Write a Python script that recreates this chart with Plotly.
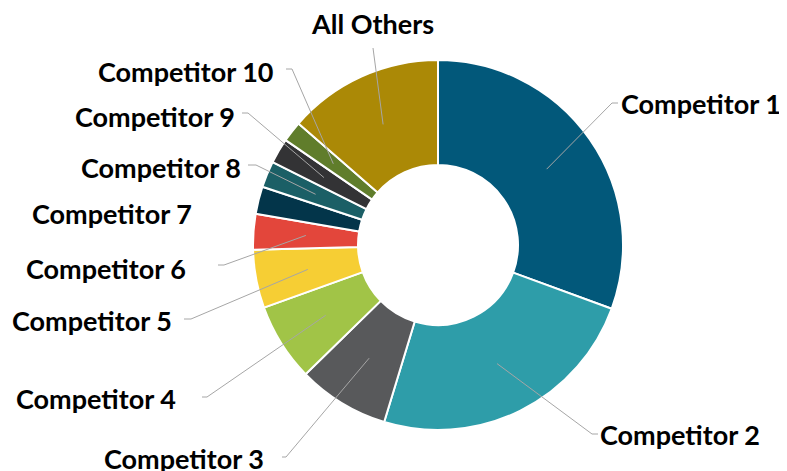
import math
import plotly.graph_objects as go

# ---- data ----
labels = ["Competitor 1", "Competitor 2", "Competitor 3", "Competitor 4", "Competitor 5",
          "Competitor 6", "Competitor 7", "Competitor 8", "Competitor 9", "Competitor 10",
          "All Others"]
values = [30.6, 24.1, 8.0, 6.8, 5.1, 3.1, 2.4, 2.3, 2.2, 1.8, 13.6]
colors = ["#02587A", "#2E9DA9", "#58595B", "#A1C447", "#F6CE34", "#E3463B",
          "#03354A", "#1B5F66", "#333335", "#607D2B", "#AB8906"]

# ---- layout (pixels in the page) ----
PAGE_W, PAGE_H = 787, 471
OFF = 8  # browser body margin
W, H = PAGE_W - OFF, PAGE_H - OFF
CX, CY, R_OUT, R_IN = 438, 245, 185, 80
R_MID = (R_OUT + R_IN) / 2

# label placement: (text x, text y, xanchor, tick start x, elbow x, elbow y)
label_layout = [
    (783, 103, "right", 618, 612, 103),
    (762, 434, "right", 598, 592, 434),
    (266, 458, "right", 282, 286, 457),
    (178, 398, "right", 202, 207, 397),
    (174, 320, "right", 184, 191, 319),
    (188, 268, "right", 218, 224, 265),
    (194, 213, "right", None, None, None),
    (243, 167, "right", 248, 256, 165),
    (237, 116, "right", 242, 248, 113),
    (276, 71, "right", 286, 292, 69),
    (372, 24, "center", None, 373, 48),
]


def px(x):
    return (x - OFF) / W


def py(y):
    return 1 - (y - OFF) / H


fig = go.Figure(go.Pie(
    labels=labels, values=values, sort=False, direction="clockwise", rotation=0,
    hole=R_IN / R_OUT, textinfo="none", hoverinfo="label+percent",
    marker=dict(colors=colors, line=dict(color="white", width=2)),
    domain=dict(x=[px(CX - R_OUT), px(CX + R_OUT)], y=[py(CY + R_OUT), py(CY - R_OUT)]),
    showlegend=False,
))

total = sum(values)
cum = 0
shapes = []
annotations = []
for lab, v, lay in zip(labels, values, label_layout):
    mid = (cum + v / 2) / total * 2 * math.pi
    cum += v
    ix = CX + R_MID * math.sin(mid)
    iy = CY - R_MID * math.cos(mid)
    tx, ty, anchor, tick_x, ex, ey = lay
    annotations.append(dict(x=px(tx), y=py(ty), xref="paper", yref="paper", text=lab,
                            showarrow=False, xanchor=anchor, yanchor="middle",
                            font=dict(family="Lato", size=27, color="#000000", weight="bold")))
    if ex is None:
        continue
    path = f"M {px(ix)} {py(iy)} L {px(ex)} {py(ey)}"
    if tick_x is not None:
        path += f" L {px(tick_x)} {py(ey)}"
    shapes.append(dict(type="path", path=path, xref="paper", yref="paper",
                       line=dict(color="#A6A6A6", width=1)))

fig.update_layout(
    width=W, height=H, margin=dict(l=0, r=0, t=0, b=0),
    paper_bgcolor="white", plot_bgcolor="white",
    shapes=shapes, annotations=annotations,
)

fig.write_html("out.html")
